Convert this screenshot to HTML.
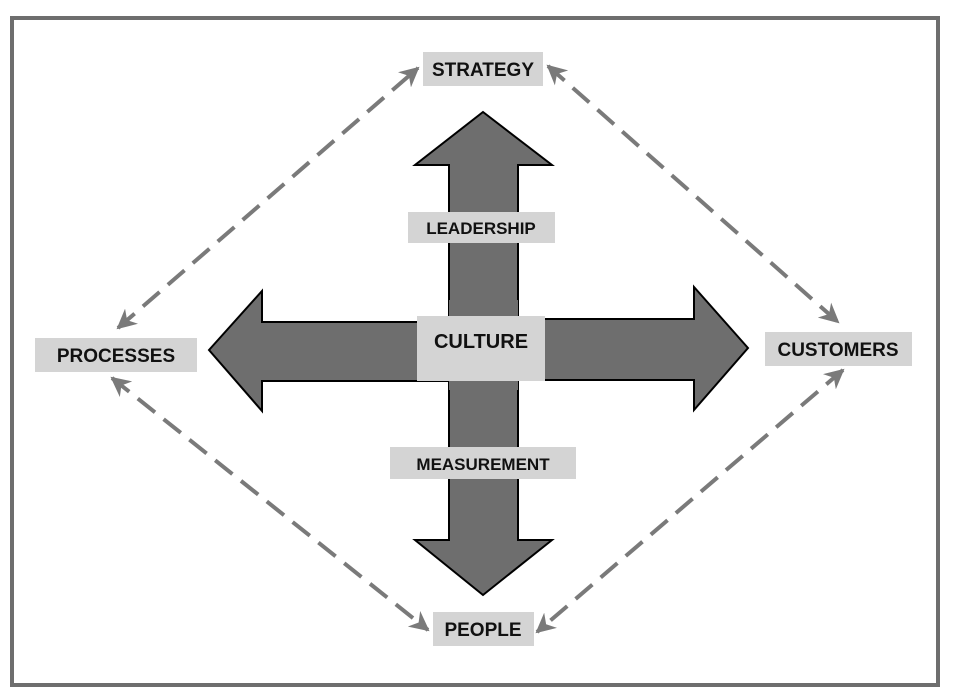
<!DOCTYPE html>
<html><head><style>
html,body{margin:0;padding:0;background:#fff;}
svg{display:block;}
text{font-family:"Liberation Sans",Arial,sans-serif;font-weight:bold;fill:#111;text-anchor:middle;}
</style></head><body>
<svg width="958" height="694" viewBox="0 0 958 694" xmlns="http://www.w3.org/2000/svg">
<defs>
<marker id="ah" viewBox="0 0 10 10" refX="9" refY="5" markerWidth="5" markerHeight="5" orient="auto-start-reverse">
<path d="M0,0 L10,5 L0,10 L3,5 Z" fill="#7a7a7a"/>
</marker>
</defs>
<rect x="12" y="18" width="926" height="667" fill="#fff" stroke="#6e6e6e" stroke-width="4"/>
<g stroke="#7a7a7a" stroke-width="4" stroke-dasharray="22,11" fill="none">
<line x1="118" y1="328" x2="418" y2="68" marker-start="url(#ah)" marker-end="url(#ah)"/>
<line x1="548" y1="66" x2="838" y2="322" marker-start="url(#ah)" marker-end="url(#ah)"/>
<line x1="112" y1="378" x2="428" y2="630" marker-start="url(#ah)" marker-end="url(#ah)"/>
<line x1="843" y1="370" x2="537" y2="632" marker-start="url(#ah)" marker-end="url(#ah)"/>
</g>
<g fill="#6e6e6e" stroke="#000" stroke-width="2" stroke-linejoin="miter">
<path d="M483,112 L552,165 L518,165 L518,322 L449,322 L449,165 L415,165 Z"/>
<path d="M483,595 L552,540 L518,540 L518,375 L449,375 L449,540 L415,540 Z"/>
<path d="M209,350 L262,291 L262,322 L460,322 L460,381 L262,381 L262,411 Z"/>
<path d="M748,348 L694,287 L694,319 L500,319 L500,380 L694,380 L694,410 Z"/>
</g>
<rect x="449" y="300" width="69" height="90" fill="#6e6e6e"/>
<g fill="#d4d4d4">
<rect x="417" y="316" width="128" height="65"/>
<rect x="423" y="52" width="120" height="34"/>
<rect x="408" y="212" width="147" height="31"/>
<rect x="35" y="338" width="162" height="34"/>
<rect x="765" y="332" width="147" height="34"/>
<rect x="390" y="447" width="186" height="32"/>
<rect x="433" y="612" width="101" height="34"/>
</g>
<text x="481" y="348" font-size="20">CULTURE</text>
<text x="483" y="76" font-size="19">STRATEGY</text>
<text x="481" y="234" font-size="17">LEADERSHIP</text>
<text x="116" y="362" font-size="19">PROCESSES</text>
<text x="838" y="356" font-size="19">CUSTOMERS</text>
<text x="483" y="470" font-size="17">MEASUREMENT</text>
<text x="483" y="636" font-size="19">PEOPLE</text>
</svg>
</body></html>
